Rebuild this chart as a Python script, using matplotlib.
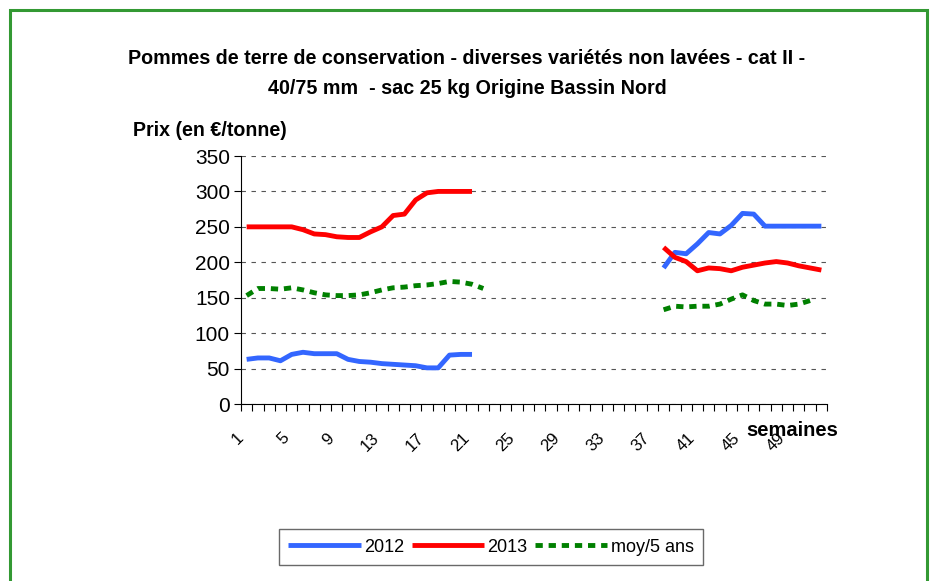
import numpy as np
import matplotlib.pyplot as plt
from matplotlib.patches import Rectangle

plt.rcParams['font.family'] = ['Liberation Sans', 'DejaVu Sans']

# weeks and prices (EUR/tonne)
weeks_a = list(range(1, 22))
weeks_b = list(range(38, 53))
y2012_a = [63, 65, 65, 61, 70, 73, 71, 71, 71, 63, 60, 59, 57, 56, 55, 54, 51, 51, 69, 70, 70]
y2012_b = [192, 214, 212, 226, 242, 240, 252, 269, 268, 251, 251, 251, 251, 251, 251]
y2013_a = [250, 250, 250, 250, 250, 246, 240, 239, 236, 235, 235, 243, 250, 266, 268, 288, 298, 300, 300, 300, 300]
y2013_b = [221, 207, 201, 188, 192, 191, 188, 193, 196, 199, 201, 199, 195, 192, 189]
weeks_m_a = list(range(1, 23))
weeks_m_b = list(range(38, 52))
moy_a = [153, 163, 163, 162, 164, 161, 157, 154, 153, 153, 154, 157, 161, 164, 165, 167, 168, 170, 173, 172, 169, 163]
moy_b = [133, 138, 137, 138, 138, 141, 148, 154, 146, 141, 141, 139, 141, 146]
tick_weeks = list(range(1, 50, 4))

blue = '#3366ff'
red = '#ff0000'
green = '#008000'

fig = plt.figure(figsize=(9.32, 5.81), dpi=100)
fig.patches.append(Rectangle((10 / 932, -0.01), 917 / 932, 1 - 10 / 581 + 0.01,
                             transform=fig.transFigure, fill=False,
                             edgecolor='#339933', linewidth=2.2))

ax = fig.add_axes([241 / 932, (581 - 404) / 581, 586 / 932, 248 / 581])

lw = 3.5
dots = (0, (1.5, 1.2))
ax.plot(weeks_a, y2012_a, color=blue, lw=lw, solid_capstyle='butt', label='2012')
ax.plot(weeks_b, y2012_b, color=blue, lw=lw, solid_capstyle='butt')
ax.plot(weeks_a, y2013_a, color=red, lw=lw, solid_capstyle='butt', label='2013')
ax.plot(weeks_b, y2013_b, color=red, lw=lw, solid_capstyle='butt')
ax.plot(weeks_m_a, moy_a, color=green, lw=lw, linestyle=dots, label='moy/5 ans')
ax.plot(weeks_m_b, moy_b, color=green, lw=lw, linestyle=dots)

ax.set_xlim(0.5, 52.5)
ax.set_ylim(0, 350)
ax.set_yticks(range(0, 351, 50))
ax.set_xticks(tick_weeks)
ax.set_xticks(np.arange(0.5, 53, 1), minor=True)
ax.tick_params(axis='x', which='major', length=0, pad=19, labelsize=12)
ax.tick_params(axis='x', which='minor', length=5, direction='out', width=0.8)
ax.tick_params(axis='y', length=5, width=0.8, labelsize=15, pad=3)
for lab in ax.get_xticklabels():
    lab.set_rotation(45)
    lab.set_ha('right')
    lab.set_va('top')

ax.grid(axis='y', color='#555555', linestyle=(0, (4, 5)), linewidth=0.8)
ax.set_axisbelow(True)
for s in ['top', 'right']:
    ax.spines[s].set_visible(False)
ax.spines['left'].set_linewidth(0.8)
ax.spines['bottom'].set_linewidth(0.8)

fig.text(467 / 932, 1 - 58 / 581,
         'Pommes de terre de conservation - diverses variétés non lavées - cat II -',
         ha='center', va='center', fontsize=14.2, fontweight='bold')
fig.text(467 / 932, 1 - 88 / 581, '40/75 mm  - sac 25 kg Origine Bassin Nord',
         ha='center', va='center', fontsize=14.2, fontweight='bold')
fig.text(133 / 932, 1 - 131 / 581, 'Prix (en €/tonne)', ha='left', va='center',
         fontsize=14.1, fontweight='bold')
fig.text(838 / 932, 1 - 430 / 581, 'semaines', ha='right', va='center',
         fontsize=14.5, fontweight='bold')

leg = fig.legend(loc='center', bbox_to_anchor=(491 / 932, 1 - 547 / 581), ncol=3,
                 frameon=True, fancybox=False, fontsize=13, handlelength=4,
                 columnspacing=0.4, handletextpad=0.2, borderpad=0.5)
leg.get_frame().set_edgecolor('#444444')
leg.get_frame().set_linewidth(1)

fig.savefig('out.png', dpi=100)
